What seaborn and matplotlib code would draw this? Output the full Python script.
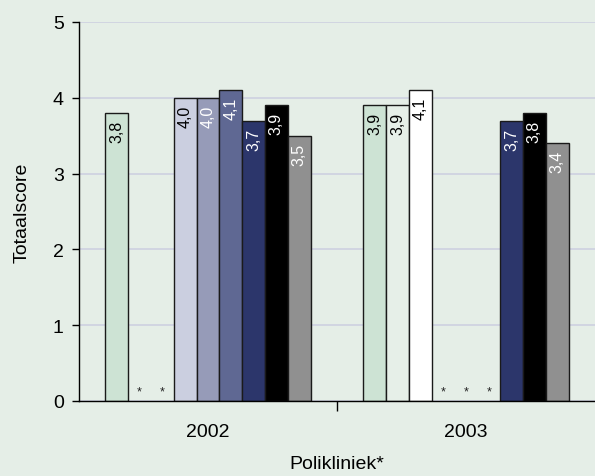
import numpy as np
import pandas as pd
import matplotlib
matplotlib.use("Agg")
import matplotlib.pyplot as plt
import seaborn as sns

# Scores per polikliniek for each year (NaN = no data, shown as *)
years = ["2002", "2003"]
poli_names = ["A", "B", "C", "D", "E", "F", "G", "H", "I"]
scores_2002 = [3.8, np.nan, np.nan, 4.0, 4.0, 4.1, 3.7, 3.9, 3.5]
scores_2003 = [3.9, 3.9, 4.1, np.nan, np.nan, np.nan, 3.7, 3.8, 3.4]

bar_colors = ["#cde3d4", "#e6efe8", "#ffffff", "#cbcfe0", "#969bb8",
              "#5f6893", "#2c366b", "#000000", "#909090"]
label_colors = ["black", "black", "black", "black", "white",
                "white", "white", "white", "white"]

bg = "#e5eee7"

rows = []
for year, vals in zip(years, [scores_2002, scores_2003]):
    for name, v in zip(poli_names, vals):
        rows.append({"Jaar": year, "Polikliniek": name, "Score": v})
df = pd.DataFrame(rows)

sns.set_theme(style="white")
plt.rcParams["font.family"] = ["Liberation Sans", "DejaVu Sans"]
plt.rcParams["text.color"] = "black"
plt.rcParams["axes.labelcolor"] = "black"
plt.rcParams["xtick.color"] = "black"
plt.rcParams["ytick.color"] = "black"

fig = plt.figure(figsize=(5.95, 4.77), dpi=100, facecolor=bg)
ax = fig.add_axes([79 / 595, 75 / 477, 1 - 79 / 595, 379 / 477])
ax.set_facecolor(bg)

width = 0.795
sns.barplot(data=df.dropna(), x="Jaar", y="Score", hue="Polikliniek",
            order=years, hue_order=poli_names, palette=bar_colors,
            saturation=1, width=width, gap=0, dodge=True,
            edgecolor="#1a1a1a", linewidth=1.0, legend=False, ax=ax,
            errorbar=None, zorder=3)

ax.set_ylim(0, 5)
ax.set_xlim(-0.5, 1.5)
ax.set_yticks([0, 1, 2, 3, 4, 5])
ax.set_yticklabels(["0", "1", "2", "3", "4", "5"], fontsize=14)
ax.yaxis.grid(True, color="#cdd0e0", linewidth=1.2, zorder=0)
ax.xaxis.grid(False)
ax.set_axisbelow(True)

# x ticks: year labels without ticks, one separator tick between groups
ax.set_xticks([0, 1])
ax.set_xticklabels(years, fontsize=14)
ax.tick_params(axis="x", length=0, pad=16)
ax.set_xticks([0.5], minor=True)
ax.tick_params(axis="x", which="minor", length=7, width=1, color="black",
               direction="out", bottom=True)
ax.tick_params(axis="y", length=5, width=1, color="black", direction="out",
               left=True, pad=6)

ax.set_xlabel("Polikliniek*", fontsize=14, labelpad=11)
ax.set_ylabel("Totaalscore", fontsize=14, labelpad=16)

for s in ["top", "right"]:
    ax.spines[s].set_visible(False)
for s in ["left", "bottom"]:
    ax.spines[s].set_color("black")
    ax.spines[s].set_linewidth(1.0)
    ax.spines[s].set_zorder(4)

# value labels inside bars, asterisks for missing values
slot = width / len(poli_names)
for xi, vals in enumerate([scores_2002, scores_2003]):
    for i, v in enumerate(vals):
        xc = xi - width / 2 + slot * (i + 0.5)
        if np.isnan(v):
            ax.text(xc, 0.05, "*", ha="center", va="bottom", fontsize=9,
                    color="#222222", zorder=5)
        else:
            ax.annotate(f"{v:.1f}".replace(".", ","), (xc, v),
                        xytext=(0, -5), textcoords="offset points",
                        ha="center", va="top", rotation=90, fontsize=11.5,
                        color=label_colors[i], zorder=5)

fig.savefig("out.png", dpi=100, facecolor=bg)
